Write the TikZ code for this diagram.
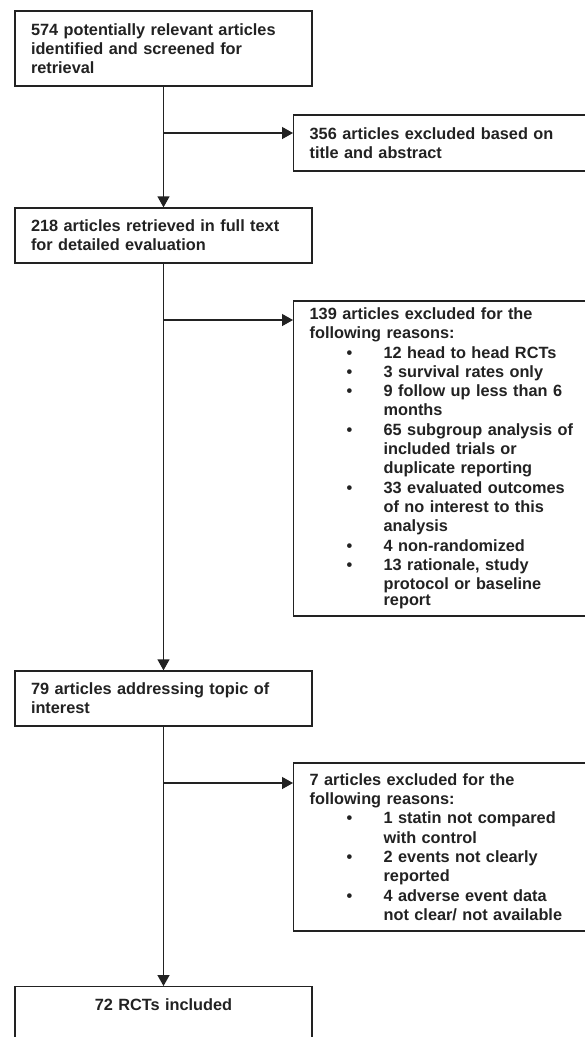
\documentclass[tikz,border=0pt]{standalone}
\usepackage{fontspec}
\setmainfont{Liberation Sans}
\usetikzlibrary{arrows.meta}
\definecolor{ink}{HTML}{222222}
\newcommand\bulitem[1]{\hspace*{37pt}\makebox[37pt][l]{\textbullet}#1}
\newcommand\contline[1]{\hspace*{74pt}#1}
\begin{document}
\begin{tikzpicture}[x=1pt,y=-1pt,
  box/.style={draw=ink, line width=1.3pt, inner xsep=16pt, inner ysep=0pt,
    font=\fontsize{16.3}{19.3}\selectfont\bfseries, text=ink, align=left},
  leftbox/.style={box, text width=265pt},
  rightbox/.style={box, text width=275pt, anchor=west},
  flow/.style={draw=ink, line width=1.3pt, -{Triangle[length=11pt,width=12pt]}}]
\path[use as bounding box, clip] (0,0) rectangle (585,1037);
\fill[white] (0,0) rectangle (585,1037);

\node[leftbox, minimum height=75pt] (b1) at (163.5,48.5)
  {574 potentially relevant articles\\identified and screened for\\retrieval};
\node[rightbox, minimum height=56pt] (b2) at (293,143)
  {356 articles excluded based on\\title and abstract};
\node[leftbox, minimum height=55pt] (b3) at (163.5,235.5)
  {218 articles retrieved in full text\\for detailed evaluation};
\node[rightbox, minimum height=315pt] (b4) at (293,458.5)
  {139 articles excluded for the\\following reasons:\\
   \bulitem{12 head to head RCTs}\\
   \bulitem{3 survival rates only}\\
   \bulitem{9 follow up less than 6}\\
   \contline{months}\\
   \bulitem{65 subgroup analysis of}\\
   \contline{included trials or}\\
   \contline{duplicate reporting}\\
   \bulitem{33 evaluated outcomes}\\
   \contline{of no interest to this}\\
   \contline{analysis}\\
   \bulitem{4 non-randomized}\\
   \bulitem{13 rationale, study}\\
   \contline{protocol or baseline}\\[-3pt]
   \contline{report}};
\node[leftbox, minimum height=55pt] (b5) at (163.5,698.5)
  {79 articles addressing topic of\\interest};
\node[rightbox, minimum height=168pt] (b6) at (293,847)
  {7 articles excluded for the\\following reasons:\\
   \bulitem{1 statin not compared}\\
   \contline{with control}\\
   \bulitem{2 events not clearly}\\
   \contline{reported}\\
   \bulitem{4 adverse event data}\\
   \contline{not clear/ not available}};
\node[leftbox, align=center, text height=24pt, text depth=100pt, anchor=north] (b7) at (163.5,986)
  {72 RCTs included};

\coordinate (j1) at (163.5,133);
\coordinate (j2) at (163.5,320);
\coordinate (j3) at (163.5,783);

\draw[flow] (b1.south) -- (b3.north);
\draw[flow] (j1) -- (j1 -| b2.west);
\draw[flow] (b3.south) -- (b5.north);
\draw[flow] (j2) -- (j2 -| b4.west);
\draw[flow] (b5.south) -- (b7.north);
\draw[flow] (j3) -- (j3 -| b6.west);
\end{tikzpicture}
\end{document}
